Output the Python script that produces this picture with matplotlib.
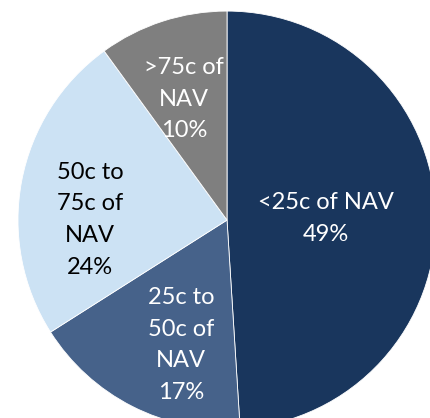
import matplotlib
matplotlib.use("Agg")
import matplotlib.pyplot as plt

plt.rcParams['font.family'] = ['Lato', 'DejaVu Sans']

labels = ["<25c of NAV", "25c to\n50c of\nNAV", "50c to\n75c of\nNAV", ">75c of\nNAV"]
shares = [49, 17, 24, 10]
colors = ["#19365d", "#46628a", "#cce2f4", "#7f7f7f"]
text_colors = ["white", "white", "black", "white"]
# label centres, in units of the pie radius
label_x = [0.474, -0.22, -0.656, -0.206]
label_y = [0.007, -0.598, 0.002, 0.579]

fig = plt.figure(figsize=(4.30, 4.18), dpi=100)
ax = fig.add_axes([0, 0, 1, 1])

wedges, _ = ax.pie(shares, colors=colors, startangle=90, counterclock=False,
                   radius=1.0, wedgeprops=dict(edgecolor="white", linewidth=0.6))

for lab, pct, tc, x, y in zip(labels, shares, text_colors, label_x, label_y):
    ax.text(x, y, f"{lab}\n{pct}%", ha="center", va="center", color=tc,
            fontsize=17, linespacing=1.63)

# pie is cropped by the frame on the right and bottom
ax.set_xlim(-1.086, 0.971)
ax.set_ylim(-0.947, 1.053)
ax.set_aspect("auto")
ax.axis("off")

fig.savefig("out.png", dpi=100)
